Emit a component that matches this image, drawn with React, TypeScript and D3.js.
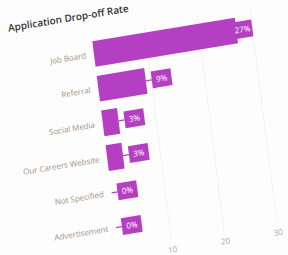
import { useEffect, useRef } from "react";
import * as d3 from "d3";

const categories = ["Job Board", "Referral", "Social Media", "Our Careers Website", "Not Specified", "Advertisement"];
const values = [27, 9, 3, 3, 0, 0];
const tickValues = [10, 20, 30];

const PURPLE = "#b53fc2";

const App = () => {
  const ref = useRef<SVGSVGElement>(null!);

  useEffect(() => {
    const width = 288;
    const height = 255;
    const svg = d3.select(ref.current);
    svg.selectAll("*").remove();
    svg.attr("width", width).attr("height", height).style("background", "#fdfdfd");

    // the source is a tilted photo of a dashboard, so the whole chart gets skewed
    const g = svg.append("g").attr("transform", "matrix(0.986,-0.163,0.126,0.992,-12.2,10.8)");

    const x = d3.scaleLinear().domain([0, 30]).range([100, 260.5]);
    const y = d3.scaleBand<string>().domain(categories).range([42.5, 252.5]).paddingInner(0.26).paddingOuter(0.13);
    const rows = categories.map((c, i) => ({ c, v: values[i] }));

    g.append("text")
      .attr("x", 18)
      .attr("y", 24)
      .attr("font-family", "Open Sans, sans-serif")
      .attr("font-weight", 600)
      .attr("font-size", 10)
      .attr("fill", "#333")
      .text("Application Drop-off Rate");

    g.selectAll(".grid")
      .data(tickValues)
      .enter()
      .append("line")
      .attr("x1", (d) => x(d))
      .attr("x2", (d) => x(d))
      .attr("y1", 40)
      .attr("y2", 256)
      .attr("stroke", "#f1f1f1")
      .attr("stroke-width", 1);

    g.selectAll(".tick")
      .data(tickValues)
      .enter()
      .append("text")
      .attr("x", (d) => x(d))
      .attr("y", 269)
      .attr("text-anchor", "middle")
      .attr("font-family", "Open Sans, sans-serif")
      .attr("font-size", 8)
      .attr("fill", "#a8a8a8")
      .text((d) => d);

    g.selectAll(".cat")
      .data(rows)
      .enter()
      .append("text")
      .attr("x", 92)
      .attr("y", (d) => y(d.c)! + y.bandwidth() / 2)
      .attr("dy", "0.35em")
      .attr("text-anchor", "end")
      .attr("font-family", "Open Sans, sans-serif")
      .attr("font-size", 8)
      .attr("fill", "#a3917e")
      .text((d) => d.c);

    g.selectAll(".bar")
      .data(rows)
      .enter()
      .append("rect")
      .attr("x", x(0))
      .attr("y", (d) => y(d.c)!)
      .attr("width", (d) => x(d.v) - x(0))
      .attr("height", y.bandwidth())
      .attr("fill", PURPLE);

    const boxW = 20;
    const boxH = 17;
    const boxX = (v: number) => Math.min(x(v) + 6, x.range()[1] - boxW);

    g.selectAll(".conn")
      .data(rows.filter((d) => boxX(d.v) > x(d.v)))
      .enter()
      .append("line")
      .attr("x1", (d) => x(d.v))
      .attr("x2", (d) => boxX(d.v))
      .attr("y1", (d) => y(d.c)! + y.bandwidth() / 2)
      .attr("y2", (d) => y(d.c)! + y.bandwidth() / 2)
      .attr("stroke", PURPLE)
      .attr("stroke-width", 1.2);

    g.selectAll(".box")
      .data(rows)
      .enter()
      .append("rect")
      .attr("x", (d) => boxX(d.v))
      .attr("y", (d) => y(d.c)! + y.bandwidth() / 2 - boxH / 2)
      .attr("width", boxW)
      .attr("height", boxH)
      .attr("fill", PURPLE);

    g.selectAll(".val")
      .data(rows)
      .enter()
      .append("text")
      .attr("x", (d) => boxX(d.v) + boxW / 2)
      .attr("y", (d) => y(d.c)! + y.bandwidth() / 2)
      .attr("dy", "0.35em")
      .attr("text-anchor", "middle")
      .attr("font-family", "Open Sans, sans-serif")
      .attr("font-size", 8)
      .attr("fill", "#ffffff")
      .text((d) => `${d.v}%`);
  }, []);

  return (
    <>
      <style>{`body{margin:0}`}</style>
      <svg ref={ref} style={{ display: "block" }} />
    </>
  );
};

export default App;
